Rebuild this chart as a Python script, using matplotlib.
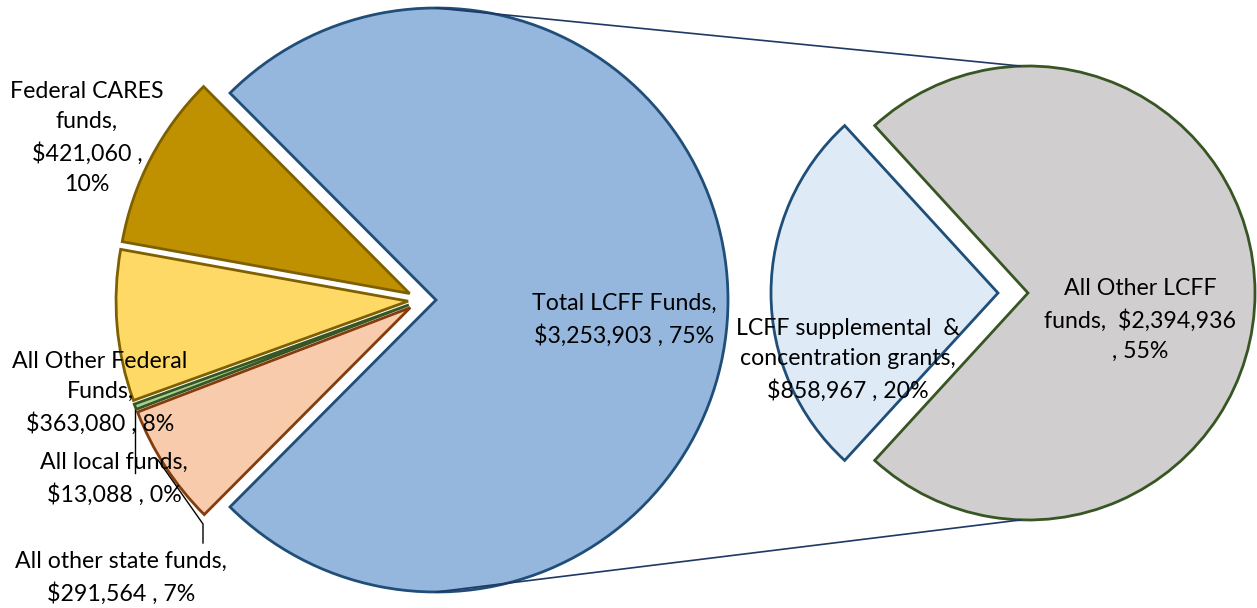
import numpy as np
import matplotlib
matplotlib.use("Agg")
import matplotlib.pyplot as plt

plt.rcParams["font.family"] = ["Lato", "DejaVu Sans"]

# main pie: first slice is the one broken out into the second pie
main_labels = ["Total LCFF Funds,\n$3,253,903 , 75%",
               "Federal CARES\nfunds,\n$421,060 ,\n10%",
               "All Other Federal\nFunds,\n$363,080 , 8%",
               "All local funds,\n$13,088 , 0%",
               "All other state funds,\n$291,564 , 7%"]
main_vals = [3253903, 421060, 363080, 13088, 291564]
main_fill = ["#95B7DD", "#BF9000", "#FFD966", "#A9D08E", "#F8CBAD"]
main_edge = ["#1F4E79", "#7F6000", "#7F6000", "#375623", "#843C0C"]

# second pie: breakdown of the LCFF slice
sub_labels = ["All Other LCFF\nfunds,  $2,394,936\n, 55%",
              "LCFF supplemental  &\nconcentration grants,\n$858,967 , 20%"]
sub_vals = [2394936, 858967]
sub_fill = ["#D0CECE", "#DEEBF7"]
sub_edge = ["#375623", "#1F4E79"]

W, H = 1257, 608
fig = plt.figure(figsize=(W / 100, H / 100), dpi=100)
ax = fig.add_axes([0, 0, 1, 1])


def Y(y):
    # pixel row -> data y (axes run upward)
    return H - y


C1, R1, E1 = (422, Y(300)), 292, 14
C2, R2, E2 = (1013, Y(293)), 227, 15

# explode is in data units here (radius is in pixels)
f1 = main_vals[0] / sum(main_vals)
w1, _ = ax.pie(main_vals, colors=main_fill, startangle=-f1 * 180, counterclock=True,
               explode=[E1] * len(main_vals), radius=R1, center=C1,
               wedgeprops=dict(linewidth=2))
for w, ec in zip(w1, main_edge):
    w.set_edgecolor(ec)

f2 = sub_vals[0] / sum(sub_vals)
w2, _ = ax.pie(sub_vals, colors=sub_fill, startangle=-f2 * 180, counterclock=True,
               explode=[E2] * len(sub_vals), radius=R2, center=C2,
               wedgeprops=dict(linewidth=2))
for w, ec in zip(w2, sub_edge):
    w.set_edgecolor(ec)

# connector lines between the LCFF slice and the second pie
bx = C1[0] + E1
gx = C2[0] + E2
ax.plot([bx, gx - 8], [C1[1] + R1, Y(66)], color="#1F3864", lw=1.2)
ax.plot([bx, gx - 8], [C1[1] - R1, Y(520)], color="#1F3864", lw=1.2)

# leader lines
ax.plot([135, 135], [Y(410), Y(473)], color="black", lw=1)
ax.plot([158, 203, 203], [Y(460), Y(524), Y(543)], color="black", lw=1)

fs = 16.7
pos = {0: (624, 320), 1: (87, 138), 2: (100, 393), 3: (114, 479), 4: (121, 578)}
for i, lab in enumerate(main_labels):
    x, y = pos[i]
    ax.text(x, Y(y), lab, ha="center", va="center", fontsize=fs,
            linespacing=1.55, color="black")
for lab, (x, y) in zip(sub_labels, [(1140, 320), (848, 360)]):
    ax.text(x, Y(y), lab, ha="center", va="center", fontsize=fs,
            linespacing=1.55, color="black")

ax.set_xlim(0, W)
ax.set_ylim(0, H)
ax.set_aspect("equal")
ax.axis("off")
fig.savefig("out.png", dpi=100)
